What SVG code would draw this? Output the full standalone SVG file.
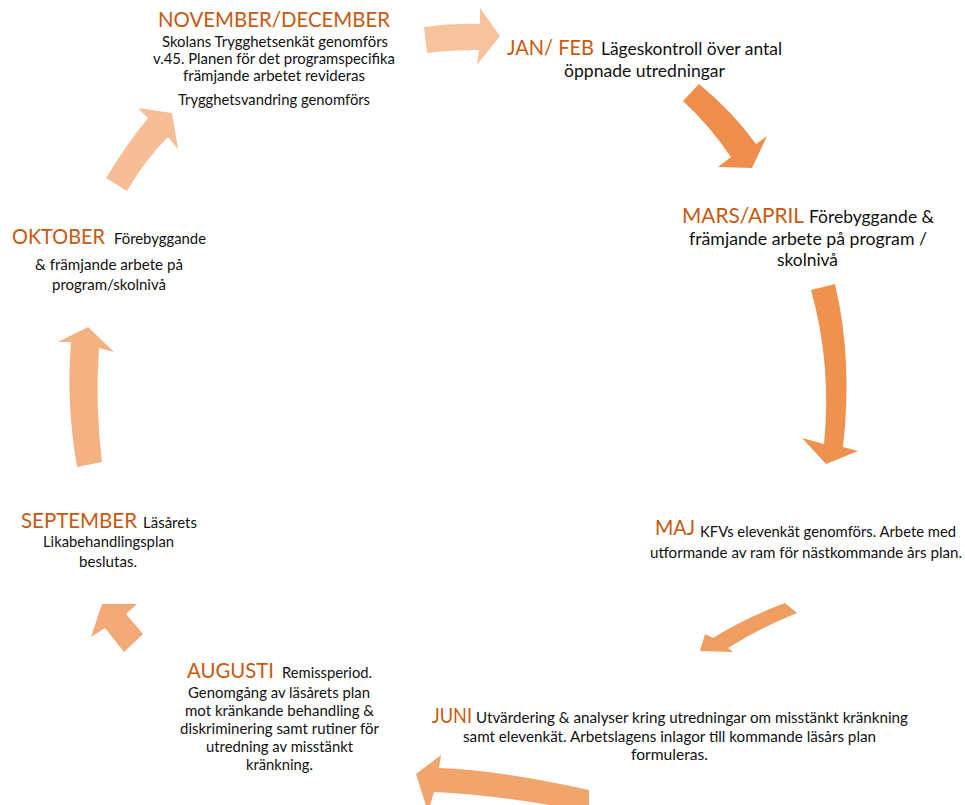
<svg xmlns="http://www.w3.org/2000/svg" width="965" height="805" viewBox="0 0 965 805">
<style>
text{font-family:Lato,"Liberation Sans",sans-serif;}
.h{font-size:22px;fill:#C55A11;}
.b{font-size:14.4px;fill:#111;}
.bl{font-size:16.7px;fill:#111;}
</style>
<rect width="965" height="805" fill="#fff"/>
<g id="connectors" stroke="none">
<path id="a-nov-jan" fill="#F7C39D" d="M424,27 Q452,23 480,24 L480,8 L500,36 L477,65 L479,50 Q452,50 427,53 Z"/>
<path id="a-jan-mar" fill="#EF8E4C" d="M699,84 Q733,112 756,144 L767,136 L752,168 L718,167 L731,157 Q710,126 683,101 Z"/>
<path id="a-mar-maj" fill="#EF924F" d="M811,290 L835,284 Q853,360 843,447 L858,451 L826,464 L802,438 L824,444 Q832,365 811,290 Z"/>
<path id="a-maj-jun" fill="#F09D62" d="M785,603 Q745,618 713,638 L705,634 L700,651 L733,652 L728,648 Q760,628 797,613 Z"/>
<path id="a-jun-aug" fill="#F1A46B" d="M589,790 Q500,770 439,768 L441,755 L416,774 L428,812 L434,792 Q500,795 589,812 Z"/>
<path id="a-aug-sep" fill="#F3AA76" d="M102,604 L137,604 L126,614 L143,634 L124,652 L105,628 L91,637 Z"/>
<path id="a-sep-okt" fill="#F4B283" d="M88,327 L114,352 L99,348 Q95,405 102,462 L77,467 Q66,405 71,342 L58,342 Z"/>
<path id="a-okt-nov" fill="#F6BD96" d="M172,113 L178,149 L168,137 Q145,160 127,191 L106,178 Q126,145 148,118 L138,108 Z"/>
</g>
<g id="node-novdec">
<text class="h" x="158" y="27" textLength="232" lengthAdjust="spacingAndGlyphs">NOVEMBER/DECEMBER</text>
<text class="b" x="162" y="46.5" textLength="226" lengthAdjust="spacingAndGlyphs">Skolans Trygghetsenkät genomförs</text>
<text class="b" x="153" y="63.5" textLength="242" lengthAdjust="spacingAndGlyphs">v.45. Planen för det programspecifika</text>
<text class="b" x="183" y="80.5" textLength="182" lengthAdjust="spacingAndGlyphs">främjande arbetet revideras</text>
<text class="b" x="178" y="105" textLength="192" lengthAdjust="spacingAndGlyphs">Trygghetsvandring genomförs</text>
</g>
<g id="node-janfeb">
<text class="h" x="507" y="55" textLength="87" lengthAdjust="spacingAndGlyphs">JAN/ FEB</text>
<text class="bl" x="601" y="55" textLength="181" lengthAdjust="spacingAndGlyphs">Lägeskontroll över antal</text>
<text class="bl" x="564" y="77" textLength="161" lengthAdjust="spacingAndGlyphs">öppnade utredningar</text>
</g>
<g id="node-marsapril">
<text class="h" x="682" y="223" textLength="122" lengthAdjust="spacingAndGlyphs">MARS/APRIL</text>
<text class="bl" x="809" y="223" textLength="125" lengthAdjust="spacingAndGlyphs">Förebyggande &amp;</text>
<text class="bl" x="689" y="245" textLength="238" lengthAdjust="spacingAndGlyphs">främjande arbete på program /</text>
<text class="bl" x="777" y="266" textLength="61" lengthAdjust="spacingAndGlyphs">skolnivå</text>
</g>
<g id="node-maj">
<text class="h" x="655" y="535" textLength="40" lengthAdjust="spacingAndGlyphs">MAJ</text>
<text class="b" x="700" y="537" textLength="256" lengthAdjust="spacingAndGlyphs">KFVs elevenkät genomförs. Arbete med</text>
<text class="b" x="650" y="558" textLength="312" lengthAdjust="spacingAndGlyphs">utformande av ram för nästkommande års plan.</text>
</g>
<g id="node-juni">
<text class="h" x="432" y="723" textLength="40" lengthAdjust="spacingAndGlyphs">JUNI</text>
<text class="b" x="476" y="723" textLength="432" lengthAdjust="spacingAndGlyphs">Utvärdering &amp; analyser kring utredningar om misstänkt kränkning</text>
<text class="b" x="463" y="742" textLength="413" lengthAdjust="spacingAndGlyphs">samt elevenkät. Arbetslagens inlagor till kommande läsårs plan</text>
<text class="b" x="631" y="760" textLength="77" lengthAdjust="spacingAndGlyphs">formuleras.</text>
</g>
<g id="node-augusti">
<text class="h" x="187" y="678" textLength="87" lengthAdjust="spacingAndGlyphs">AUGUSTI</text>
<text class="b" x="282" y="678" textLength="90" lengthAdjust="spacingAndGlyphs">Remissperiod.</text>
<text class="b" x="188" y="698" textLength="182" lengthAdjust="spacingAndGlyphs">Genomgång av läsårets plan</text>
<text class="b" x="185" y="716" textLength="189" lengthAdjust="spacingAndGlyphs">mot kränkande behandling &amp;</text>
<text class="b" x="180" y="734" textLength="199" lengthAdjust="spacingAndGlyphs">diskriminering samt rutiner för</text>
<text class="b" x="206" y="752" textLength="147" lengthAdjust="spacingAndGlyphs">utredning av misstänkt</text>
<text class="b" x="246" y="770" textLength="67" lengthAdjust="spacingAndGlyphs">kränkning.</text>
</g>
<g id="node-september">
<text class="h" x="21" y="528" textLength="116" lengthAdjust="spacingAndGlyphs">SEPTEMBER</text>
<text class="b" x="143" y="528" textLength="54" lengthAdjust="spacingAndGlyphs">Läsårets</text>
<text class="b" x="43" y="547" textLength="131" lengthAdjust="spacingAndGlyphs">Likabehandlingsplan</text>
<text class="b" x="79" y="567" textLength="58" lengthAdjust="spacingAndGlyphs">beslutas.</text>
</g>
<g id="node-oktober">
<text class="h" x="12" y="244" textLength="93" lengthAdjust="spacingAndGlyphs">OKTOBER</text>
<text class="b" x="114" y="244" textLength="92" lengthAdjust="spacingAndGlyphs">Förebyggande</text>
<text class="b" x="35" y="270" textLength="148" lengthAdjust="spacingAndGlyphs">&amp; främjande arbete på</text>
<text class="b" x="52" y="290" textLength="114" lengthAdjust="spacingAndGlyphs">program/skolnivå</text>
</g>
</svg>
